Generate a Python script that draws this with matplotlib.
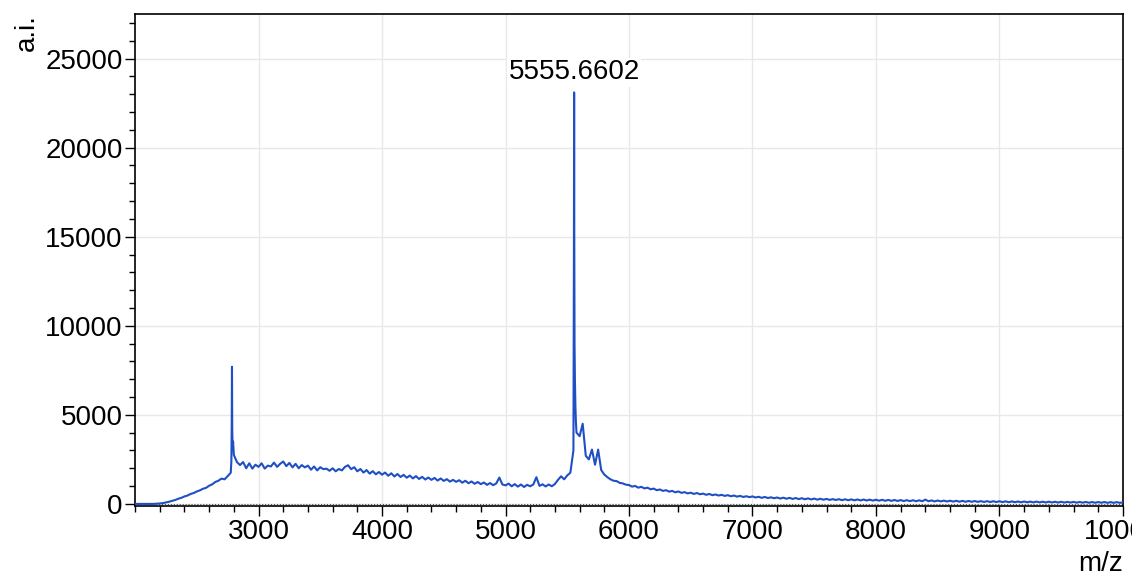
import matplotlib.pyplot as plt
import numpy as np
from matplotlib.ticker import MultipleLocator

plt.rcParams['font.family'] = ['Liberation Sans', 'DejaVu Sans']

# baseline spectrum, read every 25 m/z from 2000 to 10000
mz_grid = np.arange(2000, 10001, 25)
base_int = [
    0, 0, 0, 0, 0, 0, 0, 10,
    25, 45, 80, 120, 170, 220, 290, 340,
    420, 470, 560, 610, 700, 760, 850, 900,
    1020, 1100, 1230, 1300, 1420, 1380, 1560, 1750,
    2750, 2350, 2180, 2350, 2000, 2280, 1980, 2200,
    2080, 2280, 1980, 2150, 2100, 2320, 2080, 2250,
    2380, 2120, 2300, 2050, 2250, 2000, 2180, 2050,
    2150, 1920, 2100, 1880, 2060, 1950, 1980, 1860,
    2000, 1830, 1960, 1880, 2080, 2170, 1950, 2060,
    1830, 1960, 1760, 1900, 1700, 1840, 1660, 1790,
    1640, 1760, 1580, 1720, 1540, 1680, 1510, 1630,
    1470, 1590, 1430, 1560, 1400, 1520, 1370, 1480,
    1350, 1460, 1310, 1430, 1290, 1390, 1250, 1350,
    1240, 1330, 1190, 1300, 1160, 1260, 1130, 1230,
    1110, 1200, 1070, 1170, 1050, 1150, 1480, 1090,
    1040, 1140, 990, 1110, 970, 1090, 950, 1070,
    990, 1090, 1500, 1010, 1100, 980, 1090, 990,
    1120, 1350, 1550, 1380, 1600, 1750, 3000, 4000,
    3800, 4500, 2700, 2500, 3050, 2200, 3050, 1900,
    1650, 1500, 1380, 1300, 1280, 1180, 1150, 1080,
    1060, 970, 1010, 910, 960, 870, 910, 820,
    860, 770, 810, 730, 770, 690, 730, 650,
    700, 620, 660, 590, 630, 560, 610, 540,
    580, 510, 560, 490, 530, 470, 510, 450,
    490, 430, 470, 410, 450, 390, 430, 380,
    420, 360, 400, 340, 390, 330, 370, 320,
    360, 300, 350, 290, 340, 280, 330, 270,
    320, 260, 310, 250, 300, 240, 290, 235,
    280, 225, 270, 220, 265, 210, 260, 205,
    255, 200, 250, 195, 245, 190, 240, 185,
    235, 180, 230, 175, 225, 170, 220, 165,
    215, 160, 210, 155, 205, 150, 200, 150,
    240, 150, 195, 140, 190, 140, 185, 135,
    180, 130, 175, 125, 170, 120, 165, 120,
    160, 115, 155, 110, 155, 105, 150, 105,
    150, 100, 145, 95, 140, 95, 135, 90,
    135, 90, 130, 85, 130, 85, 125, 80,
    125, 80, 120, 75, 120, 75, 115, 75,
    115, 70, 110, 70, 110, 65, 105, 65,
    105, 65, 105, 60, 100, 60, 100, 60,
    85,
]

# sharp peaks
peak_mz = [2780, 2783, 2785, 2787, 2790, 2794,
           5552, 5554, 5555.66, 5557, 5559, 5562, 5566, 5570]
peak_int = [2400, 4500, 7700, 4200, 3200, 3500,
            8000, 14000, 23100, 15000, 9000, 7000, 5500, 4600]

label_mz = 5555.66
label_txt = '5555.6602'

mz = np.concatenate([mz_grid, peak_mz])
inten = np.concatenate([base_int, peak_int])
order = np.argsort(mz)
mz, inten = mz[order], inten[order]

fig = plt.figure(figsize=(11.32, 5.79), dpi=100)
ax = fig.add_axes([0.1193, 0.126, 0.8727, 0.8498])

ax.plot(mz, inten, color='#1f4fc4', lw=1.5, zorder=3)
ax.axhline(0, color='#555555', lw=0.8, ls=':', zorder=2)

ax.set_xlim(2000, 10000)
ax.set_ylim(-120, 27500)
ax.set_xticks([3000, 4000, 5000, 6000, 7000, 8000, 9000, 10000])
ax.xaxis.set_minor_locator(MultipleLocator(200))
ax.set_yticks([0, 5000, 10000, 15000, 20000, 25000])
ax.yaxis.set_minor_locator(MultipleLocator(1000))
ax.tick_params(which='major', length=7, width=1, labelsize=20, pad=2)
ax.tick_params(which='minor', length=4, width=1)
ax.grid(True, which='major', color='#e8e8e8', lw=1)
ax.set_axisbelow(True)
for s in ax.spines.values():
    s.set_linewidth(1.2)

ax.text(label_mz, 23500, label_txt, ha='center', va='bottom', fontsize=20,
        bbox=dict(facecolor='white', edgecolor='none', pad=1), zorder=4)

fig.text(0.024, 0.975, 'a.i.', rotation=90, ha='center', va='top', fontsize=20)
fig.text(0.992, 0.003, 'm/z', ha='right', va='bottom', fontsize=20)

fig.savefig('out.png', dpi=100)
